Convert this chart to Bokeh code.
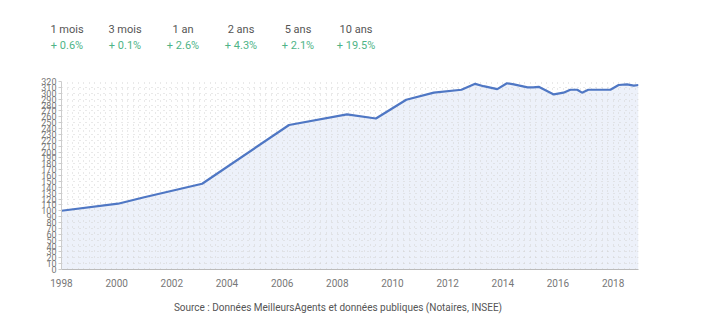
from bokeh.plotting import figure
from bokeh.layouts import column
from bokeh.models import FixedTicker, SingleIntervalTicker, ColumnDataSource, Div
from bokeh.embed import file_html
from bokeh.resources import INLINE

# Data
years = [1998.0, 2000.05, 2001.0, 2003.1, 2006.25, 2008.35, 2009.4, 2010.5, 2011.5,
         2012.5, 2013.0, 2013.3, 2013.8, 2014.15, 2014.4, 2014.9, 2015.1, 2015.3,
         2015.85, 2016.2, 2016.45, 2016.7, 2016.87, 2017.1, 2017.9, 2018.2, 2018.5,
         2018.75, 2018.92]
values = [100, 112, 123, 146, 246, 264, 257, 289, 301,
          306, 316, 312, 307, 317, 315, 310, 310, 311,
          298, 301, 306, 306, 301, 306, 306, 314, 315,
          313, 314]
zeros = [0] * len(values)

x_tick_years = [1998, 2000, 2002, 2004, 2006, 2008, 2010, 2012, 2014, 2016, 2018]
y_ticks = list(range(0, 330, 10))

period_labels = ["1 mois", "3 mois", "1 an", "2 ans", "5 ans", "10 ans"]
period_changes = ["+ 0.6%", "+ 0.1%", "+ 2.6%", "+ 4.3%", "+ 2.1%", "+ 19.5%"]

source_text = "Source : Données MeilleursAgents et données publiques (Notaires, INSEE)"

FONT = "Roboto"
W = 720
FRAME_L = 61
FRAME_R = 638
HEADER_H = 70
FOOTER_H = 30
MAIN_H = 327 - HEADER_H - FOOTER_H


def span(text, cx, cy, size, color):
    return (f'<div style="position:absolute;left:{cx - 50}px;top:{cy - 8}px;width:100px;'
            f'height:16px;line-height:16px;text-align:center;font-family:{FONT};'
            f'font-size:{size};color:{color};white-space:nowrap;">{text}</div>')


# header with the period stats
centers = [67, 125, 183, 241, 298, 356]
parts = []
for cx, lab, ch in zip(centers, period_labels, period_changes):
    parts.append(span(lab, cx, 30, "11px", "#555555"))
    parts.append(span(ch, cx, 46, "11px", "#4fb487"))
header = Div(text=f'<div style="position:relative;width:{W}px;height:{HEADER_H}px;">'
                  + "".join(parts) + '</div>',
             width=W, height=HEADER_H, margin=0)

# main chart: frame from y=81 to y=269 in the page, x from 61 to 638
p = figure(width=W, height=MAIN_H, output_backend="svg", toolbar_location=None,
           x_range=(1998, 2018.92), y_range=(0, 320),
           min_border_left=FRAME_L, min_border_right=W - FRAME_R,
           min_border_top=81 - HEADER_H, min_border_bottom=HEADER_H + MAIN_H - 269)
p.outline_line_color = None
p.background_fill_color = "white"
p.border_fill_color = "white"

src = ColumnDataSource(dict(x=years, y=values, z=zeros))
p.varea(x="x", y1="z", y2="y", source=src, fill_color="#edf1fa", fill_alpha=1.0,
        level="image")
p.line(x="x", y="y", source=src, line_color="#4f77c4", line_width=2.2)

# grid as a dot lattice
p.ygrid.ticker = SingleIntervalTicker(interval=10)
p.ygrid.grid_line_color = "#d3d3d3"
p.ygrid.grid_line_dash = "1 5"
p.xgrid.ticker = SingleIntervalTicker(interval=0.2)
p.xgrid.grid_line_color = "#d3d3d3"
p.xgrid.grid_line_dash = "1 5"
p.xgrid.level = "underlay"
p.ygrid.level = "underlay"

# axes
p.xaxis.ticker = FixedTicker(ticks=x_tick_years)
p.xaxis.major_label_text_font = FONT
p.xaxis.major_label_text_font_size = "10px"
p.xaxis.major_label_text_color = "#777777"
p.xaxis.axis_line_color = "#bbbbbb"
p.xaxis.major_tick_line_color = None
p.xaxis.minor_tick_line_color = None
p.xaxis.major_label_standoff = 3

p.yaxis.ticker = FixedTicker(ticks=y_ticks)
p.yaxis.major_label_text_font = FONT
p.yaxis.major_label_text_font_size = "9px"
p.yaxis.major_label_text_color = "#777777"
p.yaxis.axis_line_color = "#cccccc"
p.yaxis.major_tick_line_color = "#cccccc"
p.yaxis.major_tick_in = 0
p.yaxis.major_tick_out = 3
p.yaxis.minor_tick_line_color = None
p.yaxis.major_label_standoff = 2

# footer with the source
footer_y = 308 - HEADER_H - MAIN_H
footer = Div(text=f'<div style="position:relative;width:{W}px;height:{FOOTER_H}px;">'
                  f'<div style="position:absolute;left:38px;top:{footer_y - 8}px;width:600px;'
                  f'height:16px;line-height:16px;text-align:center;font-family:{FONT};'
                  f'font-size:10px;color:#555555;white-space:nowrap;">{source_text}</div></div>',
             width=W, height=FOOTER_H, margin=0)

layout = column(header, p, footer, spacing=0)
open("out.html", "w").write(file_html(layout, INLINE))
